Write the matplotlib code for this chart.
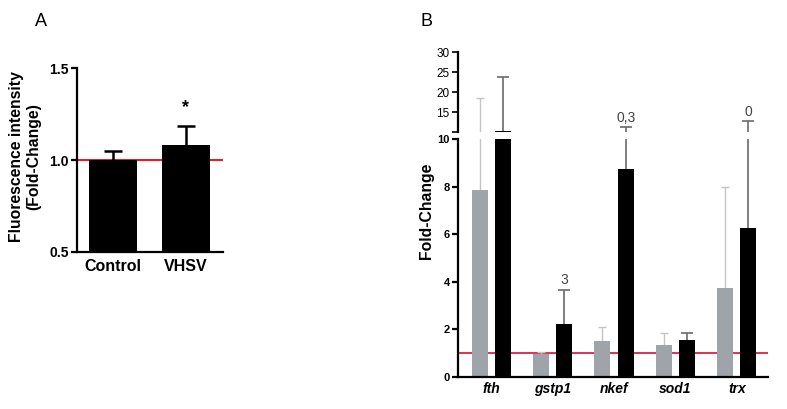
import numpy as np
import matplotlib
matplotlib.use('Agg')
import matplotlib.pyplot as plt

plt.rcParams['font.family'] = ['Liberation Sans', 'DejaVu Sans']

# Panel A data
a_groups = ['Control', 'VHSV']
a_values = [1.0, 1.08]
a_err = [0.05, 0.106]

# Panel B data
genes = ['fth', 'gstp1', 'nkef', 'sod1', 'trx']
grey_values = [7.85, 0.97, 1.5, 1.35, 3.72]
grey_tops = [18.6, 1.05, 2.1, 1.82, 8.0]
black_values = [10.3, 2.23, 8.75, 1.56, 6.27]
black_tops = [23.8, 3.67, 11.25, 1.83, 12.75]
black_notes = ['', '3', '0,3', '', '0']

grey_err = np.array(grey_tops) - np.array(grey_values)
black_err = np.array(black_tops) - np.array(black_values)

fig = plt.figure(figsize=(7.87, 4.09), dpi=100)

# ---------------- Panel A ----------------
axA = fig.add_axes([0.0978, 0.3839, 0.1856, 0.4498])
xa = np.arange(len(a_groups))
axA.axhline(1.0, color='#e3202a', lw=1.5, zorder=1)
axA.bar(xa, a_values, width=0.66, color='black', zorder=2)
eb = axA.errorbar(xa, a_values, yerr=[np.zeros(2), a_err], fmt='none',
                  ecolor='black', elinewidth=1.8, capsize=6.5, capthick=1.8,
                  zorder=1.5)
eb[1][0].set_visible(False)
axA.set_xlim(-0.49, 1.51)
axA.set_ylim(0.5, 1.5)
axA.set_yticks([0.5, 1.0, 1.5])
axA.set_yticklabels(['0.5', '1.0', '1.5'], fontweight='bold', fontsize=10)
axA.set_xticks(xa)
axA.set_xticklabels(a_groups, fontweight='bold', fontsize=11.5)
axA.tick_params(axis='x', length=0, pad=5)
axA.tick_params(axis='y', length=4, width=1.6, pad=2)
for s in ['top', 'right']:
    axA.spines[s].set_visible(False)
for s in ['left', 'bottom']:
    axA.spines[s].set_linewidth(1.6)
axA.text(1, a_values[1] + a_err[1] + 0.05, '*', ha='center', va='bottom',
         fontsize=13, fontweight='bold')
fig.text(25 / 787, 1 - 157 / 409, 'Fluorescence intensity\n(Fold-Change)',
         rotation=90, ha='center', va='center', fontsize=11.3,
         fontweight='bold', multialignment='center')
fig.text(41 / 787, 1 - 21 / 409, 'A', ha='center', va='center', fontsize=13)

# ---------------- Panel B ----------------
xb = np.arange(len(genes))
w = 0.26
off = 0.19
grey = '#9ea4a9'

axL = fig.add_axes([0.582, 0.079, 0.394, 0.5804])
axU = fig.add_axes([0.582, 0.6773, 0.394, 0.1948])

for ax in (axL, axU):
    ax.bar(xb - off, grey_values, width=w, color=grey, zorder=2)
    ax.bar(xb + off, black_values, width=w, color='black', zorder=2)
    e1 = ax.errorbar(xb - off, grey_values,
                     yerr=[np.zeros(len(genes)), grey_err], fmt='none',
                     ecolor='#c4c4c4', elinewidth=1.0, capsize=3,
                     capthick=1.0, zorder=1.5)
    e1[1][0].set_visible(False)
    e2 = ax.errorbar(xb + off, black_values,
                     yerr=[np.zeros(len(genes)), black_err], fmt='none',
                     ecolor='#6a6a6a', elinewidth=1.2, capsize=4,
                     capthick=1.2, zorder=1.5)
    e2[1][0].set_visible(False)
    ax.set_xlim(-0.54, 4.51)
    for s in ['top', 'right']:
        ax.spines[s].set_visible(False)
    ax.spines['left'].set_linewidth(1.6)

# reference line sits behind the bars
axL.axhline(1.0, color='#dc3352', lw=1.4, zorder=1)
axL.set_ylim(0, 10)
axL.set_yticks([0, 2, 4, 6, 8, 10])
axL.set_yticklabels(['0', '2', '4', '6', '8', '10'], fontweight='bold',
                    fontsize=8)
axL.spines['bottom'].set_linewidth(1.6)
axL.set_xticks(xb)
axL.set_xticklabels(genes, fontstyle='italic', fontweight='bold', fontsize=10)
axL.tick_params(axis='x', length=0, pad=4)
axL.tick_params(axis='y', length=4, width=1.6, pad=2)

axU.set_ylim(10, 30)
axU.set_yticks([10, 15, 20, 25, 30])
axU.set_yticklabels(['', '15', '20', '25', '30'], fontsize=8.5)
axU.spines['bottom'].set_visible(False)
axU.set_xticks([])
axU.tick_params(axis='y', length=4, width=1.2, pad=2)

for i, note in enumerate(black_notes):
    if not note:
        continue
    top = black_tops[i]
    ax = axL if top < 10 else axU
    ax.annotate(note, (xb[i] + off, top), xytext=(0, 1.5),
                textcoords='offset points', ha='center', va='bottom',
                fontsize=10, color='#444444')

fig.text(427 / 787, 1 - 211 / 409, 'Fold-Change', rotation=90, ha='center',
         va='center', fontsize=11.3, fontweight='bold')
fig.text(426 / 787, 1 - 22 / 409, 'B', ha='center', va='center', fontsize=13)

fig.savefig('out.png', dpi=100)
